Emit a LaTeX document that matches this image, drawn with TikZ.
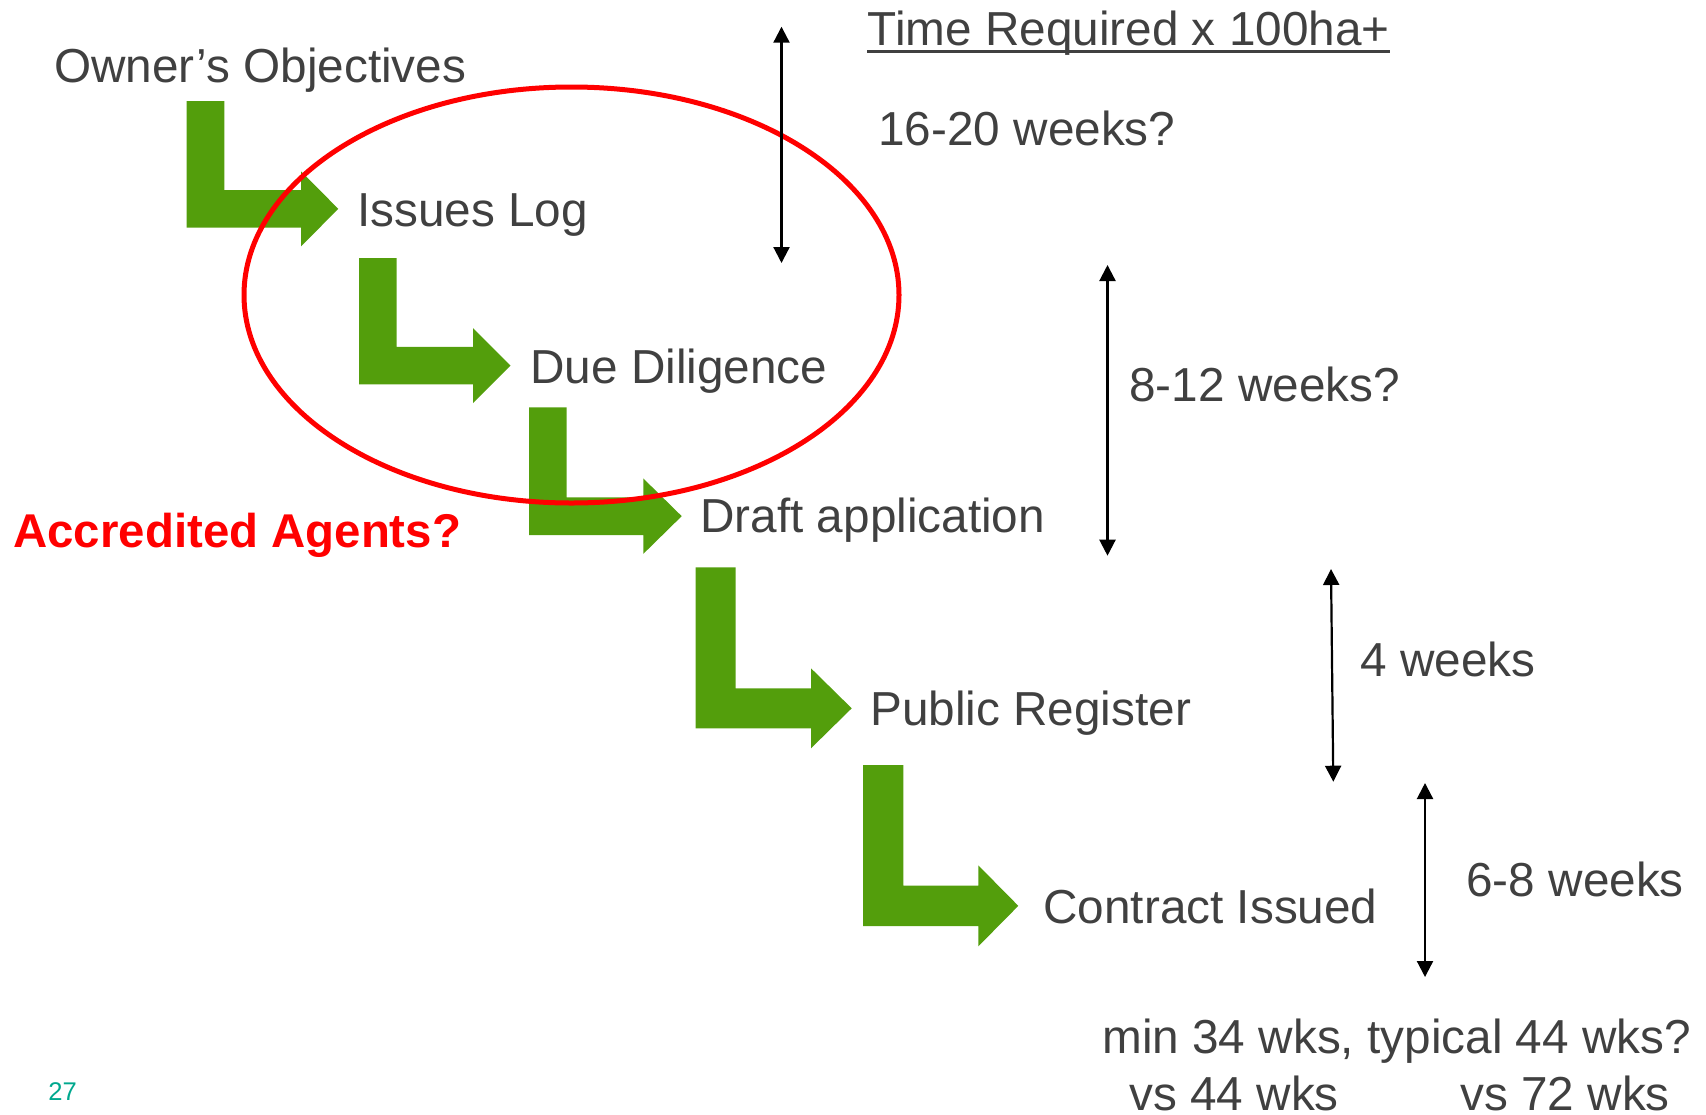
\documentclass[tikz,border=0pt]{standalone}
\usepackage{fontspec}
\setmainfont{Liberation Sans}
\usetikzlibrary{arrows.meta}
\definecolor{txt}{HTML}{404040}
\definecolor{grn}{RGB}{83,158,12}
\definecolor{tealnum}{HTML}{00A88E}
\newcommand\greenL[8]{%
  \fill[grn] (#1,#3) -- (#2,#3) -- (#2,#4) -- (#6,#4) -- (#6,{(#4+#5)/2-#7})
    -- (#8,{(#4+#5)/2}) -- (#6,{(#4+#5)/2+#7}) -- (#6,#5) -- (#1,#5) -- cycle;}
\begin{document}
\begin{tikzpicture}[x=0.5pt,y=-0.5pt,
  lbl/.style={anchor=base west,inner sep=0pt,text=txt,font=\fontsize{23.85}{28}\selectfont},
  span/.style={{Triangle[length=8pt,width=8pt]}-{Triangle[length=8pt,width=8pt]},line width=1.1pt,black},
  ring/.style={draw=red,line width=2.5pt},
]
\useasboundingbox (0,0) rectangle (1706,1114);

% green L arrows
\greenL{186.7}{224.3}{101}{190}{227.7}{301}{37.5}{338.3}
\greenL{359}{396.6}{258}{346.8}{384.4}{473}{37.5}{510.5}
\greenL{529}{566.7}{407.3}{497.3}{535}{643.3}{37.7}{681.7}
\greenL{695.7}{735.7}{567.3}{688.3}{728.3}{811}{40}{851.7}
\greenL{863}{903.3}{765}{885.7}{926}{978.3}{40.5}{1018.3}

% red ellipse
\draw[ring] (571.5,295) ellipse [x radius=327.5, y radius=208];

% step labels
\node[lbl] (owner) at (54,82) {Owner’s Objectives};
\node[lbl] (issues) at (357,226) {Issues Log};
\node[lbl] (due) at (530,383) {Due Diligence};
\node[lbl] (draft) at (700,532.5) {Draft application};
\node[lbl] (public) at (870,725.5) {Public Register};
\node[lbl] (contract) at (1043,923) {Contract Issued};
\node[lbl,text=red,font=\fontsize{23.7}{28}\selectfont\bfseries] (agents) at (13,547) {Accredited Agents?};

% time column
\node[lbl] (tr) at (867.3,45) {Time Required x 100ha+};
\draw[txt,line width=1.5pt] ([yshift=-3.35pt]tr.base west) -- ([yshift=-3.35pt]tr.base east);
\node[lbl] (w1) at (878,145) {16-20 weeks?};
\node[lbl] (w2) at (1129,401) {8-12 weeks?};
\node[lbl] (w3) at (1360,676) {4 weeks};
\node[lbl] (w4) at (1466,896) {6-8 weeks};
\node[lbl] (total) at (1102,1053.5) {min 34 wks, typical 44 wks?};
\node[lbl] (vs1) at (1129,1110) {vs 44 wks};
\node[lbl] (vs2) at (1460,1110) {vs 72 wks};
\node[anchor=base west,inner sep=0pt,text=tealnum,font=\fontsize{12.8}{15}\selectfont] (num) at (48,1100) {27};

% span arrows
\coordinate (d1a) at (781.5,26.7);  \coordinate (d1b) at (781.5,263);
\coordinate (d2a) at (1107.5,265);  \coordinate (d2b) at (1107.5,555.7);
\coordinate (d3a) at (1331,569);    \coordinate (d3b) at (1333.3,781.7);
\coordinate (d4a) at (1425,783);    \coordinate (d4b) at (1425,977);
\draw[span] (d1a) -- (d1b);
\draw[span] (d2a) -- (d2b);
\draw[span] (d3a) -- (d3b);
\draw[span] (d4a) -- (d4b);
\end{tikzpicture}
\end{document}
